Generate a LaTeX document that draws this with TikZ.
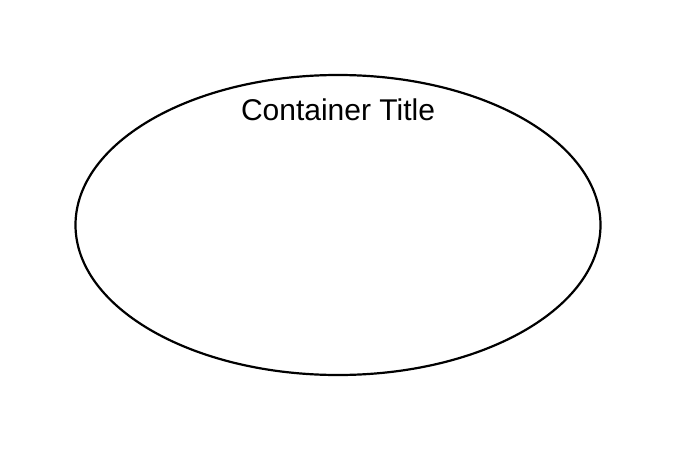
\documentclass[tikz,border=0pt]{standalone}
\usepackage{fontspec}
\setmainfont{Liberation Sans}
\usetikzlibrary{shapes.geometric}
\begin{document}
\begin{tikzpicture}[x=1pt,y=-1pt]
		\useasboundingbox (0,0) rectangle (677,452);
		\node[ellipse,draw=black,line width=2.2pt,minimum width=525pt,minimum height=300pt,inner sep=0pt] (container) at (338,225) {};
		\node[font=\fontsize{30}{34}\selectfont,inner sep=0pt] (title) at (338,110) {Container Title};
	\end{tikzpicture}
\end{document}
